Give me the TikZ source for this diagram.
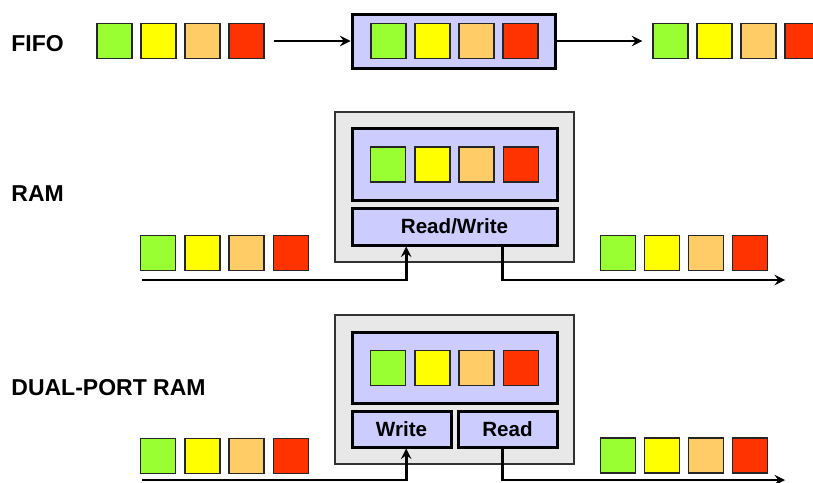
\documentclass[tikz,border=0pt]{standalone}
\usepackage{fontspec}
\setmainfont{Liberation Sans}
\usetikzlibrary{positioning,calc}
\definecolor{cgreen}{HTML}{99FF33}
\definecolor{cyellow}{HTML}{FFFF00}
\definecolor{corange}{HTML}{FFCC66}
\definecolor{cred}{HTML}{FF3300}
\definecolor{lav}{HTML}{CCCCFF}
\definecolor{shell}{HTML}{E8E8E8}
\tikzset{
	cell/.style={rectangle, draw=black!85, line width=0.7pt, minimum size=17.5pt, inner sep=0pt},
	membox/.style={rectangle, draw, fill=lav, line width=1.5pt, inner sep=0pt},
	chip/.style={rectangle, draw=black!80, fill=shell, line width=0.7pt, inner sep=0pt},
	rowlabel/.style={anchor=west, font=\bfseries\fontsize{11.5}{14}\selectfont, inner sep=0pt},
	portlabel/.style={font=\bfseries\fontsize{10.3}{12}\selectfont},
	arrow/.style={-stealth, line width=1.3pt}
}
\begin{document}
\begin{tikzpicture}[x=0.5pt,y=-0.5pt]
			\useasboundingbox (0,0) rectangle (813,482);
			% labels
			\node[rowlabel] (lfifo) at (11,44) {FIFO};
			\node[rowlabel] (lram) at (11,194) {RAM};
			\node[rowlabel] (ldual) at (11,388) {DUAL-PORT RAM};
			
			% FIFO row
			\node[membox, minimum width=101.5pt, minimum height=27pt] (fifo) at (453.5,41) {};
			\foreach \c [count=\i] in {cgreen,cyellow,corange,cred} {
				\node[cell, fill=\c] (fin\i) at ({114.5+(\i-1)*44},41) {};
				\node[cell, fill=\c] (fm\i) at ({388.5+(\i-1)*44},41) {};
				\node[cell, fill=\c] (fout\i) at ({670.5+(\i-1)*44},41) {};
			}
			\draw[arrow] ([xshift=4.5pt]fin4.east) -- (fifo.west);
			\draw[arrow] (fifo.east) -- ([xshift=-5pt]fout1.west);
			
			% RAM
			\node[chip, minimum width=119.5pt, minimum height=75pt] (ram) at (454.5,187) {};
			\node[membox, minimum width=102.5pt, minimum height=36pt] (rmem) at (454.5,164) {};
			\node[membox, portlabel, minimum width=102.5pt, minimum height=18.5pt] (rw) at (454.5,226.5) {Read/Write};
			\foreach \c [count=\i] in {cgreen,cyellow,corange,cred} {
				\node[cell, fill=\c] (rin\i) at ({158+(\i-1)*44.3},253) {};
				\node[cell, fill=\c] (rm\i) at ({388+(\i-1)*44.3},164.5) {};
				\node[cell, fill=\c] (rout\i) at ({618+(\i-1)*44},253) {};
			}
			\coordinate (ramin) at (142,280);
			\coordinate (ramout) at (785,280);
			\draw[arrow] (ramin) -| (rw.south -| rm1.east);
			\draw[arrow] (rw.south -| rm4.west) |- (ramout);
			
			% dual-port RAM
			\node[chip, minimum width=119.5pt, minimum height=74.5pt] (dram) at (454.5,389.5) {};
			\node[membox, minimum width=102.5pt, minimum height=35.5pt] (dmem) at (454.5,367.5) {};
			\node[membox, portlabel, minimum width=49.5pt, minimum height=18pt] (wr) at (401.5,429) {Write};
			\node[membox, portlabel, minimum width=49.5pt, minimum height=18pt] (rd) at (507.5,429) {Read};
			\foreach \c [count=\i] in {cgreen,cyellow,corange,cred} {
				\node[cell, fill=\c] (din\i) at ({158+(\i-1)*44.3},456) {};
				\node[cell, fill=\c] (dm\i) at ({388+(\i-1)*44.3},368) {};
				\node[cell, fill=\c] (dout\i) at ({618+(\i-1)*44},455.5) {};
			}
			\coordinate (dualin) at (142,480);
			\coordinate (dualout) at (785,480);
			\draw[arrow] (dualin) -| (wr.south -| dm1.east);
			\draw[arrow] (rd.south -| dm4.west) |- (dualout);
		\end{tikzpicture}
\end{document}
